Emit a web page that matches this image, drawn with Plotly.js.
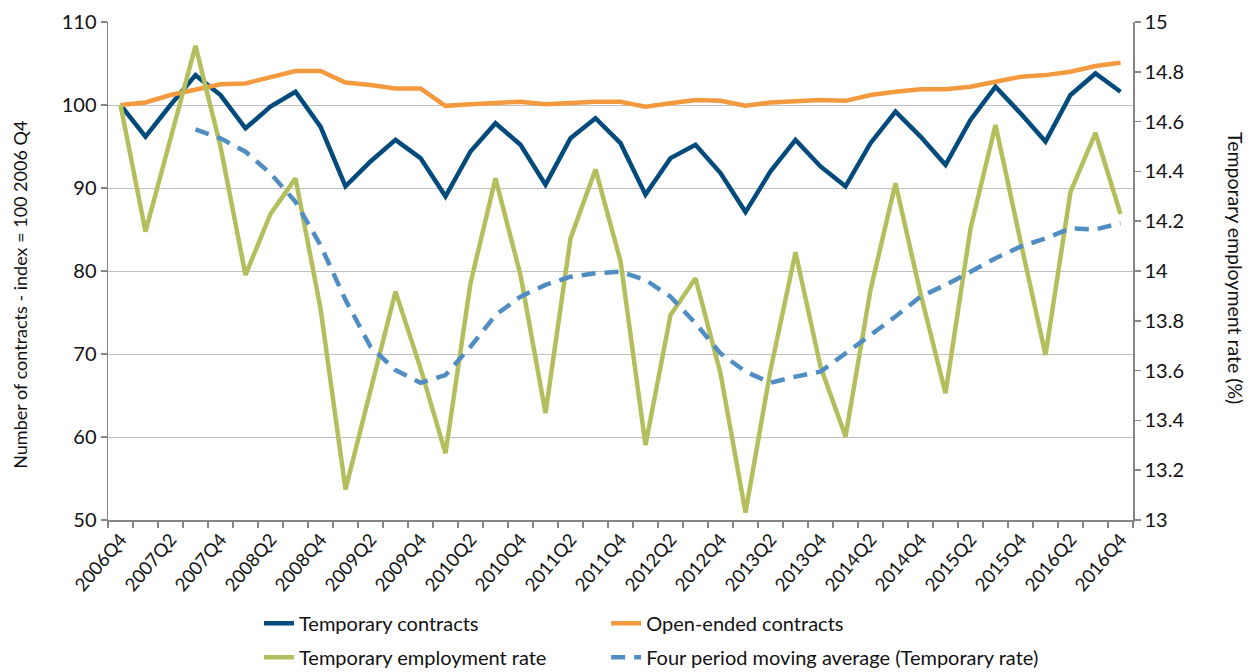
<!DOCTYPE html>
<html>
<head>
<meta charset="utf-8">
<script src="https://cdn.plot.ly/plotly-3.0.1.min.js"></script>
<style>
  html, body { margin: 0; padding: 0; background: #fff; }
  #chart { width: 1250px; height: 672px; }
</style>
</head>
<body>
<div id="chart"></div>
<script>
// Quarterly contracts index (left axis) and temporary employment rate (right axis)

const quarters = [
    '2006Q4', '2007Q1', '2007Q2', '2007Q3', '2007Q4', '2008Q1', '2008Q2', '2008Q3', '2008Q4',
    '2009Q1', '2009Q2', '2009Q3', '2009Q4', '2010Q1', '2010Q2', '2010Q3', '2010Q4',
    '2011Q1', '2011Q2', '2011Q3', '2011Q4', '2012Q1', '2012Q2', '2012Q3', '2012Q4',
    '2013Q1', '2013Q2', '2013Q3', '2013Q4', '2014Q1', '2014Q2', '2014Q3', '2014Q4',
    '2015Q1', '2015Q2', '2015Q3', '2015Q4', '2016Q1', '2016Q2', '2016Q3', '2016Q4'
];

const temporaryContracts = [
    100.0, 96.2, 100.0, 103.6, 101.2, 97.2, 99.8, 101.6, 97.4,
    90.2, 93.2, 95.8, 93.6, 89.0, 94.4, 97.8, 95.2,
    90.4, 96.0, 98.4, 95.4, 89.2, 93.6, 95.2, 91.8,
    87.1, 92.0, 95.8, 92.6, 90.2, 95.4, 99.2, 96.2,
    92.8, 98.2, 102.2, 99.0, 95.6, 101.2, 103.8, 101.6
];

const openEndedContracts = [
    100.0, 100.3, 101.2, 101.9, 102.5, 102.6, 103.3, 104.1, 104.1,
    102.7, 102.4, 102.0, 102.0, 99.9, 100.1, 100.2, 100.4,
    100.1, 100.3, 100.4, 100.4, 99.8, 100.2, 100.6, 100.5,
    99.9, 100.3, 100.5, 100.6, 100.5, 101.2, 101.6, 101.9,
    101.9, 102.2, 102.8, 103.4, 103.6, 104.0, 104.7, 105.1
];

const temporaryRate = [
    14.667, 14.158, 14.531, 14.904, 14.50, 13.984, 14.229, 14.372, 13.850,
    13.123, 13.52, 13.917, 13.61, 13.268, 13.951, 14.372, 13.984,
    13.429, 14.131, 14.408, 14.04, 13.301, 13.823, 13.971, 13.589,
    13.03, 13.602, 14.075, 13.616, 13.335, 13.924, 14.352, 13.91,
    13.509, 14.17, 14.586, 14.12, 13.663, 14.318, 14.555, 14.229
];

// four period moving average is undefined for the first three quarters
const movingAverage = [
    null, null, null, 14.569, 14.533, 14.479, 14.392, 14.278, 14.104,
    13.884, 13.696, 13.602, 13.551, 13.582, 13.696, 13.823, 13.897,
    13.944, 13.977, 13.991, 13.997, 13.964, 13.897, 13.790, 13.669,
    13.596, 13.551, 13.576, 13.596, 13.669, 13.743, 13.817, 13.897,
    13.944, 13.997, 14.051, 14.098, 14.131, 14.171, 14.167, 14.192
];

const idx = quarters.map((q, i) => i);
// label every second quarter, starting from 2006Q4
const labelIdx = idx.filter(i => i % 2 === 0);
const labelText = labelIdx.map(i => quarters[i]);

const FONT = 'Lato, "Open Sans", sans-serif';
const TXT = '#111';
const axisGrey = '#868686';

// left legend column: traces 0 and 2, right column: traces 1 and 3
const data = [
    {
        x: idx, y: temporaryContracts, name: 'Temporary contracts',
        type: 'scatter', mode: 'lines',
        line: { color: '#004A7C', width: 4.5 },
        yaxis: 'y', legend: 'legend', legendgroup: 'a'
    },
    {
        x: idx, y: openEndedContracts, name: 'Open-ended contracts',
        type: 'scatter', mode: 'lines',
        line: { color: '#F39A3E', width: 4.5 },
        yaxis: 'y', legend: 'legend2', legendgroup: 'b'
    },
    {
        x: idx, y: temporaryRate, name: 'Temporary employment rate',
        type: 'scatter', mode: 'lines',
        line: { color: '#B3BE5C', width: 4.5 },
        yaxis: 'y2', legend: 'legend', legendgroup: 'c'
    },
    {
        x: idx, y: movingAverage, name: 'Four period moving average (Temporary rate)',
        type: 'scatter', mode: 'lines',
        line: { color: '#4F8DC3', width: 4.5, dash: '14px,9px' },
        yaxis: 'y2', legend: 'legend2', legendgroup: 'd'
    }
];

const legendBase = {
    orientation: 'v',
    yanchor: 'top', xanchor: 'left',
    font: { family: FONT, size: 20, color: TXT },
    tracegroupgap: 5,
    itemwidth: 30,
    bgcolor: 'rgba(0,0,0,0)'
};

const layout = {
    width: 1250,
    height: 672,
    paper_bgcolor: '#fff',
    plot_bgcolor: '#fff',
    font: { family: FONT, color: TXT, size: 18 },
    margin: { l: 108, r: 117, t: 22, b: 152, autoexpand: false },
    showlegend: true,
    legend: Object.assign({}, legendBase, { x: 0.1473, y: -0.168 }),
    legend2: Object.assign({}, legendBase, { x: 0.486, y: -0.168 }),
    xaxis: {
        type: 'linear',
        automargin: false,
        range: [-0.5, 40.5],
        tickmode: 'array',
        tickvals: labelIdx,
        ticktext: labelText,
        tickangle: -50,
        ticks: '',
        tickfont: { family: FONT, size: 18.5, color: TXT },
        showgrid: false,
        zeroline: false,
        showline: true,
        linecolor: axisGrey,
        linewidth: 1.5,
        minor: {
            tickmode: 'linear', tick0: -0.5, dtick: 1,
            ticks: 'outside', ticklen: 6, tickcolor: axisGrey, tickwidth: 1.5,
            showgrid: false
        }
    },
    yaxis: {
        automargin: false,
        range: [50, 110],
        dtick: 10,
        ticks: 'outside',
        ticklen: 6,
        tickwidth: 1.5,
        tickcolor: axisGrey,
        tickfont: { family: FONT, size: 20, color: TXT },
        showline: true,
        linecolor: axisGrey,
        linewidth: 1.5,
        showgrid: true,
        gridcolor: '#C0C0C0',
        gridwidth: 1,
        zeroline: false
    },
    yaxis2: {
        automargin: false,
        range: [13, 15],
        dtick: 0.2,
        overlaying: 'y',
        side: 'right',
        ticks: 'outside',
        ticklen: 6,
        tickwidth: 1.5,
        tickcolor: axisGrey,
        tickfont: { family: FONT, size: 20, color: TXT },
        showline: true,
        linecolor: axisGrey,
        linewidth: 1.5,
        showgrid: false,
        zeroline: false
    },
    annotations: [
        {
            text: 'Number of contracts - index = 100 2006 Q4',
            xref: 'paper', yref: 'paper', x: -0.086, y: 0.452,
            xanchor: 'center', yanchor: 'middle',
            textangle: -90, showarrow: false,
            font: { family: FONT, size: 18, color: TXT }
        },
        {
            text: 'Temporary employment rate (%)',
            xref: 'paper', yref: 'paper', x: 1.1005, y: 0.506,
            xanchor: 'center', yanchor: 'middle',
            textangle: 90, showarrow: false,
            font: { family: FONT, size: 19.5, color: TXT }
        }
    ]
};

const config = { responsive: false, displayModeBar: false, staticPlot: true };

window.Plotly.newPlot('chart', data, layout, config);
</script>
</body>
</html>
